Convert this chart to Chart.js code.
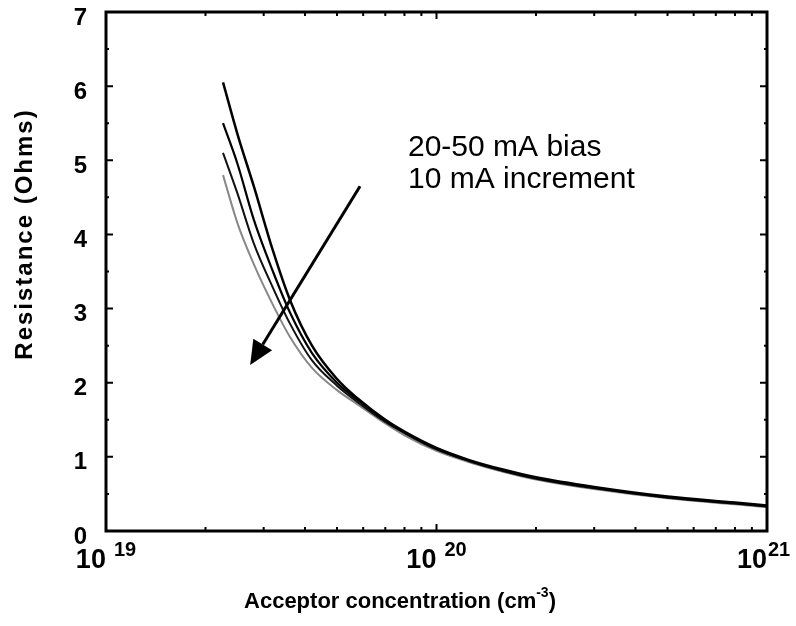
<!DOCTYPE html>
<html>
<head>
<meta charset="utf-8">
<script src="https://cdn.jsdelivr.net/npm/chart.js@4.4.1/dist/chart.umd.min.js"></script>
<style>
  html, body { margin: 0; padding: 0; background: #fff; }
  #wrap { width: 796px; height: 626px; }
</style>
</head>
<body>
<div id="wrap"><canvas id="myChart" width="796" height="626"></canvas></div>
<script>
// acceptor concentration (cm^-3)
const concentration = [2.26e19, 2.5e19, 2.8e19, 3.2e19, 3.6e19, 4.2e19, 5e19, 5.8e19, 7e19, 8e19,
                       1e20, 1.25e20, 1.6e20, 2e20, 3e20, 5e20, 8e20, 1e21];
// resistance (Ohms) per bias current
const r20mA = [6.05, 5.35, 4.65, 3.78, 3.12, 2.5, 2.05, 1.78, 1.5, 1.34, 1.12, 0.96, 0.825, 0.725, 0.595, 0.465, 0.385, 0.345];
const r30mA = [5.5, 4.95, 4.2, 3.5, 2.95, 2.4, 2.0, 1.76, 1.49, 1.33, 1.11, 0.95, 0.815, 0.715, 0.585, 0.455, 0.375, 0.335];
const r40mA = [5.1, 4.55, 3.88, 3.28, 2.8, 2.3, 1.96, 1.73, 1.47, 1.32, 1.1, 0.945, 0.805, 0.705, 0.575, 0.45, 0.37, 0.33];
const r50mA = [4.8, 4.15, 3.6, 3.05, 2.62, 2.2, 1.9, 1.7, 1.45, 1.29, 1.08, 0.93, 0.795, 0.695, 0.565, 0.44, 0.36, 0.32];

const xMajorTicks = [1e19, 1e20, 1e21];
const xMajorLabels = ['19', '20', '21'];
const yTicks = [0, 1, 2, 3, 4, 5, 6, 7];
const noteLines = ['20-50 mA bias', '10 mA increment'];
// arrow from / to, in data units
const arrowFrom = [5.87e19, 4.65];
const arrowTo = [2.73e19, 2.24];

function pts(arr) {
  return concentration.map((c, i) => ({ x: c, y: arr[i] }));
}

const ctx = document.getElementById('myChart');

const framePlugin = {
  id: 'frame',
  afterDraw(chart) {
    const c = chart.ctx;
    const a = chart.chartArea;
    const xs = chart.scales.x, ys = chart.scales.y;
    c.save();
    c.strokeStyle = '#000';
    c.fillStyle = '#000';

    // arrow
    const x0 = xs.getPixelForValue(arrowFrom[0]), y0 = ys.getPixelForValue(arrowFrom[1]);
    const x1 = xs.getPixelForValue(arrowTo[0]), y1 = ys.getPixelForValue(arrowTo[1]);
    const ang = Math.atan2(y1 - y0, x1 - x0);
    const hl = 24, hw = 11;
    const bx = x1 - hl * Math.cos(ang), by = y1 - hl * Math.sin(ang);
    c.lineWidth = 3;
    c.beginPath(); c.moveTo(x0, y0); c.lineTo(bx, by); c.stroke();
    c.beginPath();
    c.moveTo(x1, y1);
    c.lineTo(bx + hw * Math.sin(ang), by - hw * Math.cos(ang));
    c.lineTo(bx - hw * Math.sin(ang), by + hw * Math.cos(ang));
    c.closePath(); c.fill();

    // box
    c.lineWidth = 3;
    c.strokeRect(a.left, a.top, a.right - a.left, a.bottom - a.top);

    // y ticks, inward
    c.lineWidth = 2;
    yTicks.forEach(v => {
      const y = ys.getPixelForValue(v);
      c.beginPath();
      c.moveTo(a.left, y); c.lineTo(a.left + 7, y);
      c.moveTo(a.right, y); c.lineTo(a.right - 7, y);
      c.stroke();
      if (v < 7) {
        const yh = ys.getPixelForValue(v + 0.5);
        c.beginPath();
        c.moveTo(a.left, yh); c.lineTo(a.left + 3, yh);
        c.moveTo(a.right, yh); c.lineTo(a.right - 3, yh);
        c.stroke();
      }
    });
    // x minor ticks, inward
    for (let d = 0; d < xMajorTicks.length - 1; d++) {
      for (let k = 2; k <= 9; k++) {
        const x = xs.getPixelForValue(xMajorTicks[d] * k);
        c.beginPath();
        c.moveTo(x, a.bottom); c.lineTo(x, a.bottom - 4);
        c.moveTo(x, a.top); c.lineTo(x, a.top + 4);
        c.stroke();
      }
    }
    xMajorTicks.forEach(v => {
      const x = xs.getPixelForValue(v);
      c.beginPath();
      c.moveTo(x, a.bottom); c.lineTo(x, a.bottom - 7);
      c.moveTo(x, a.top); c.lineTo(x, a.top + 7);
      c.stroke();
    });

    // y labels
    c.font = 'bold 24px "Liberation Sans", Arial, sans-serif';
    c.textAlign = 'right';
    c.textBaseline = 'middle';
    yTicks.forEach(v => {
      c.fillText(String(v), a.left - 19, ys.getPixelForValue(v) + 6);
    });

    // x labels: 10 with superscript exponent
    xMajorTicks.forEach((v, i) => {
      const x = xs.getPixelForValue(v);
      c.textBaseline = 'alphabetic';
      c.font = 'bold 27px "Liberation Sans", Arial, sans-serif';
      const w10 = c.measureText('10').width;
      c.font = 'bold 20px "Liberation Sans", Arial, sans-serif';
      const we = c.measureText(xMajorLabels[i]).width;
      const gap = 8;
      const left = (i === 2) ? x - w10 : x - (w10 + gap + we) / 2;
      c.textAlign = 'left';
      c.font = 'bold 27px "Liberation Sans", Arial, sans-serif';
      c.fillText('10', left, 568);
      c.font = 'bold 20px "Liberation Sans", Arial, sans-serif';
      c.fillText(xMajorLabels[i], left + w10 + (i === 2 ? 1 : gap), 556);
    });

    // x title
    c.font = 'bold 22px "Liberation Sans", Arial, sans-serif';
    const t1 = 'Acceptor concentration (cm';
    const t2 = '-3';
    const t3 = ')';
    const w1 = c.measureText(t1).width;
    const w3 = c.measureText(t3).width;
    c.font = 'bold 14px "Liberation Sans", Arial, sans-serif';
    const w2 = c.measureText(t2).width;
    const tx = 400 - (w1 + w2 + w3) / 2;
    c.textAlign = 'left';
    c.font = 'bold 22px "Liberation Sans", Arial, sans-serif';
    c.fillText(t1, tx, 608);
    c.font = 'bold 14px "Liberation Sans", Arial, sans-serif';
    c.fillText(t2, tx + w1, 597);
    c.font = 'bold 22px "Liberation Sans", Arial, sans-serif';
    c.fillText(t3, tx + w1 + w2, 608);

    // y title
    c.save();
    c.translate(32, 234);
    c.rotate(-Math.PI / 2);
    c.font = 'bold 24px "Liberation Sans", Arial, sans-serif';
    c.letterSpacing = '2px';
    c.textAlign = 'center';
    c.textBaseline = 'alphabetic';
    c.fillText('Resistance (Ohms)', 0, 0);
    c.restore();

    // annotation
    c.font = '30px "Liberation Sans", Arial, sans-serif';
    c.textAlign = 'left';
    c.textBaseline = 'alphabetic';
    c.fillText(noteLines[0], 408, 156);
    c.fillText(noteLines[1], 408, 188);
    c.restore();
  }
};

new Chart(ctx, {
  type: 'line',
  data: {
    datasets: [
      { label: '20 mA', data: pts(r20mA), borderColor: '#000', borderWidth: 2.5 },
      { label: '30 mA', data: pts(r30mA), borderColor: '#000', borderWidth: 2.2 },
      { label: '40 mA', data: pts(r40mA), borderColor: '#111', borderWidth: 2 },
      { label: '50 mA', data: pts(r50mA), borderColor: '#888', borderWidth: 2 }
    ]
  },
  options: {
    responsive: false,
    animation: false,
    events: [],
    layout: { padding: { left: 0, top: 12, right: 29, bottom: 0 } },
    elements: {
      point: { radius: 0 },
      line: { cubicInterpolationMode: 'monotone', fill: false }
    },
    plugins: { legend: { display: false }, tooltip: { enabled: false } },
    scales: {
      x: {
        type: 'logarithmic', min: 1e19, max: 1e21,
        grid: { display: false }, border: { display: false },
        ticks: { display: false },
        afterFit(scale) { scale.height = 95; }
      },
      y: {
        type: 'linear', min: 0, max: 7,
        grid: { display: false }, border: { display: false },
        ticks: { display: false },
        afterFit(scale) { scale.width = 106; }
      }
    }
  },
  plugins: [framePlugin]
});
</script>
</body>
</html>
